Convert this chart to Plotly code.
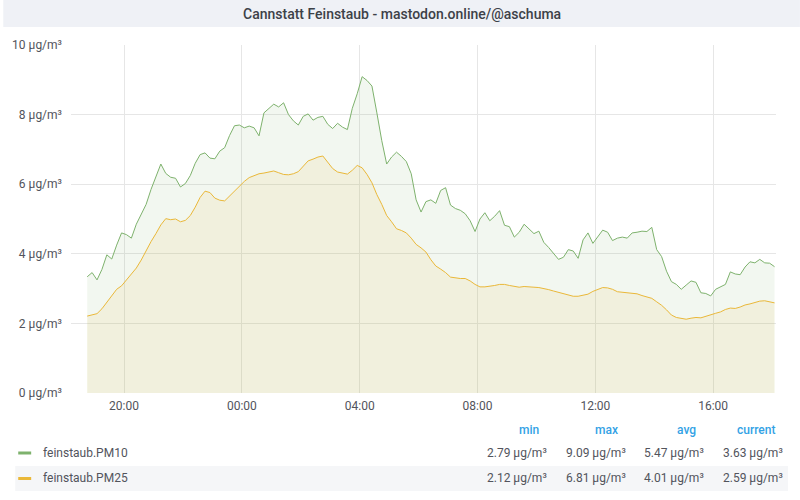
import plotly.graph_objects as go
import pandas as pd

# ---------------- data ----------------
start_time = "2023-01-10 18:45"
step = "10min"

pm10 = [3.34, 3.46, 3.25, 3.55, 3.97, 3.85, 4.25, 4.60, 4.55, 4.45,
        4.85, 5.15, 5.42, 5.85, 6.24, 6.58, 6.31, 6.20, 6.17, 5.92,
        6.02, 6.25, 6.60, 6.85, 6.90, 6.75, 6.73, 6.95, 7.05, 7.40,
        7.68, 7.70, 7.62, 7.67, 7.62, 7.39, 8.05, 8.18, 8.30, 8.22,
        8.34, 8.00, 7.82, 7.70, 7.95, 8.02, 7.84, 7.92, 7.95, 7.72,
        7.60, 7.75, 7.64, 7.57, 8.18, 8.60, 9.09, 8.98, 8.82, 8.05,
        7.25, 6.58, 6.78, 6.92, 6.80, 6.65, 6.30, 5.55, 5.20, 5.50,
        5.55, 5.45, 5.82, 5.90, 5.40, 5.30, 5.25, 5.15, 4.95, 4.64,
        5.00, 5.18, 4.95, 5.08, 5.24, 4.82, 4.78, 4.48, 4.62, 4.85,
        4.70, 4.58, 4.65, 4.33, 4.18, 4.01, 3.84, 3.90, 4.12, 4.08,
        3.87, 4.40, 4.60, 4.30, 4.48, 4.68, 4.62, 4.38, 4.45, 4.48,
        4.45, 4.60, 4.62, 4.65, 4.64, 4.76, 4.12, 3.92, 3.50, 3.20,
        3.12, 2.98, 3.10, 3.22, 3.18, 2.88, 2.86, 2.79, 2.98, 3.05,
        3.12, 3.48, 3.42, 3.40, 3.62, 3.77, 3.74, 3.84, 3.74, 3.73,
        3.63]

pm25 = [2.21, 2.24, 2.28, 2.42, 2.60, 2.80, 2.98, 3.08, 3.24, 3.41,
        3.59, 3.82, 4.10, 4.35, 4.58, 4.83, 5.01, 4.98, 5.00, 4.92,
        4.96, 5.10, 5.34, 5.62, 5.80, 5.76, 5.60, 5.54, 5.52, 5.66,
        5.83, 5.96, 6.08, 6.19, 6.24, 6.30, 6.32, 6.35, 6.38, 6.33,
        6.28, 6.27, 6.30, 6.36, 6.52, 6.67, 6.72, 6.78, 6.81, 6.62,
        6.45, 6.35, 6.31, 6.29, 6.40, 6.54, 6.47, 6.28, 6.04, 5.70,
        5.42, 5.10, 4.92, 4.72, 4.67, 4.60, 4.45, 4.27, 4.17, 4.05,
        3.83, 3.65, 3.56, 3.46, 3.33, 3.30, 3.29, 3.29, 3.22, 3.12,
        3.05, 3.05, 3.06, 3.09, 3.12, 3.12, 3.09, 3.06, 3.04, 3.06,
        3.06, 3.04, 3.03, 3.01, 2.97, 2.93, 2.89, 2.86, 2.83, 2.78,
        2.78, 2.80, 2.84, 2.92, 2.98, 3.03, 3.02, 2.98, 2.91, 2.89,
        2.88, 2.87, 2.85, 2.80, 2.77, 2.72, 2.62, 2.52, 2.39, 2.24,
        2.17, 2.15, 2.12, 2.15, 2.17, 2.16, 2.21, 2.25, 2.29, 2.33,
        2.40, 2.44, 2.43, 2.47, 2.53, 2.56, 2.60, 2.64, 2.65, 2.63,
        2.59]

series_names = ["feinstaub.PM10", "feinstaub.PM25"]
stat_headers = ["min", "max", "avg", "current"]
stats_pm10 = ["2.79 µg/m³", "9.09 µg/m³", "5.47 µg/m³", "3.63 µg/m³"]
stats_pm25 = ["2.12 µg/m³", "6.81 µg/m³", "4.01 µg/m³", "2.59 µg/m³"]
y_ticks = [0, 2, 4, 6, 8, 10]
title_text = "Cannstatt Feinstaub - mastodon.online/@aschuma"

# ---------------- layout geometry ----------------
W, H = 800, 500
L, R, T, B = 68, 776, 45, 393  # plot area in pixels

def px(x):
    return (x - L) / (R - L)

def py(y):
    return (B - y) / (B - T)

times = pd.date_range(start_time, periods=len(pm10), freq=step)

GREEN = "#7eb26d"
YELLOW = "#eab839"
TXT = "#52545c"
FONT = "Roboto"

fig = go.Figure()
fig.add_trace(go.Scatter(x=times, y=pm10, mode="lines", name=series_names[0],
                         line=dict(color=GREEN, width=1), fill="tozeroy",
                         fillcolor="rgba(126,178,109,0.10)"))
fig.add_trace(go.Scatter(x=times, y=pm25, mode="lines", name=series_names[1],
                         line=dict(color=YELLOW, width=1), fill="tozeroy",
                         fillcolor="rgba(234,184,57,0.10)"))

fig.update_layout(
    width=W, height=H,
    margin=dict(l=L, r=W - R, t=T, b=H - B, pad=0),
    paper_bgcolor="white", plot_bgcolor="white",
    showlegend=False,
    font=dict(family=FONT, size=12, color=TXT),
)

fig.update_xaxes(
    range=["2023-01-10 18:12", "2023-01-11 18:08"],
    tick0="2023-01-10 00:00", dtick=4 * 3600 * 1000, tickformat="%H:%M",
    showgrid=True, gridcolor="#e6e6e6", gridwidth=1,
    zeroline=False, showline=False, ticks="",
    tickfont=dict(family=FONT, size=12, color=TXT),
    ticklabelstandoff=4,
)
fig.update_yaxes(
    range=[0, 10], tickvals=y_ticks,
    ticktext=[f"{v} µg/m³" for v in y_ticks],
    showgrid=True, gridcolor="#e6e6e6", gridwidth=1,
    zeroline=False, showline=False, ticks="",
    tickfont=dict(family=FONT, size=12, color=TXT),
    ticklabelstandoff=8,
)

shapes = []
# title bar
shapes.append(dict(type="rect", xref="paper", yref="paper",
                   x0=px(0), x1=px(W), y0=py(27), y1=py(0),
                   fillcolor="#eff1f6", line=dict(width=0), layer="below"))
# second legend row background
shapes.append(dict(type="rect", xref="paper", yref="paper",
                   x0=px(12), x1=px(788), y0=py(491), y1=py(466),
                   fillcolor="#f5f6f8", line=dict(width=0), layer="below"))
# legend swatches
for yy, col in [(453, GREEN), (478.5, YELLOW)]:
    shapes.append(dict(type="rect", xref="paper", yref="paper",
                       x0=px(15), x1=px(28), y0=py(yy + 1.5), y1=py(yy - 1.5),
                       fillcolor=col, line=dict(width=0)))
fig.update_layout(shapes=shapes)

ann = []
ann.append(dict(text=title_text, xref="paper", yref="paper", x=px(400), y=py(14),
                xanchor="center", yanchor="middle", showarrow=False,
                font=dict(family=FONT, size=14, color="#3d4148", weight=500)))

header_right = [540, 619, 698, 777]
value_right = [548, 627, 706, 785]
for h, xr in zip(stat_headers, header_right):
    ann.append(dict(text=h, xref="paper", yref="paper", x=px(xr), y=py(430),
                    xanchor="right", yanchor="middle", showarrow=False,
                    font=dict(family=FONT, size=12, color="#33a2e5", weight=500)))

for name, stats, yy in [(series_names[0], stats_pm10, 453), (series_names[1], stats_pm25, 478.5)]:
    ann.append(dict(text=name, xref="paper", yref="paper", x=px(38), y=py(yy),
                    xanchor="left", yanchor="middle", showarrow=False,
                    font=dict(family=FONT, size=12, color=TXT)))
    for s, xr in zip(stats, value_right):
        ann.append(dict(text=s, xref="paper", yref="paper", x=px(xr), y=py(yy),
                        xanchor="right", yanchor="middle", showarrow=False,
                        font=dict(family=FONT, size=12, color=TXT)))
fig.update_layout(annotations=ann)

fig.write_html(
    "out.html",
    config={"displayModeBar": False},
    post_script="document.body.style.margin='0';document.body.style.overflow='hidden';",
)
